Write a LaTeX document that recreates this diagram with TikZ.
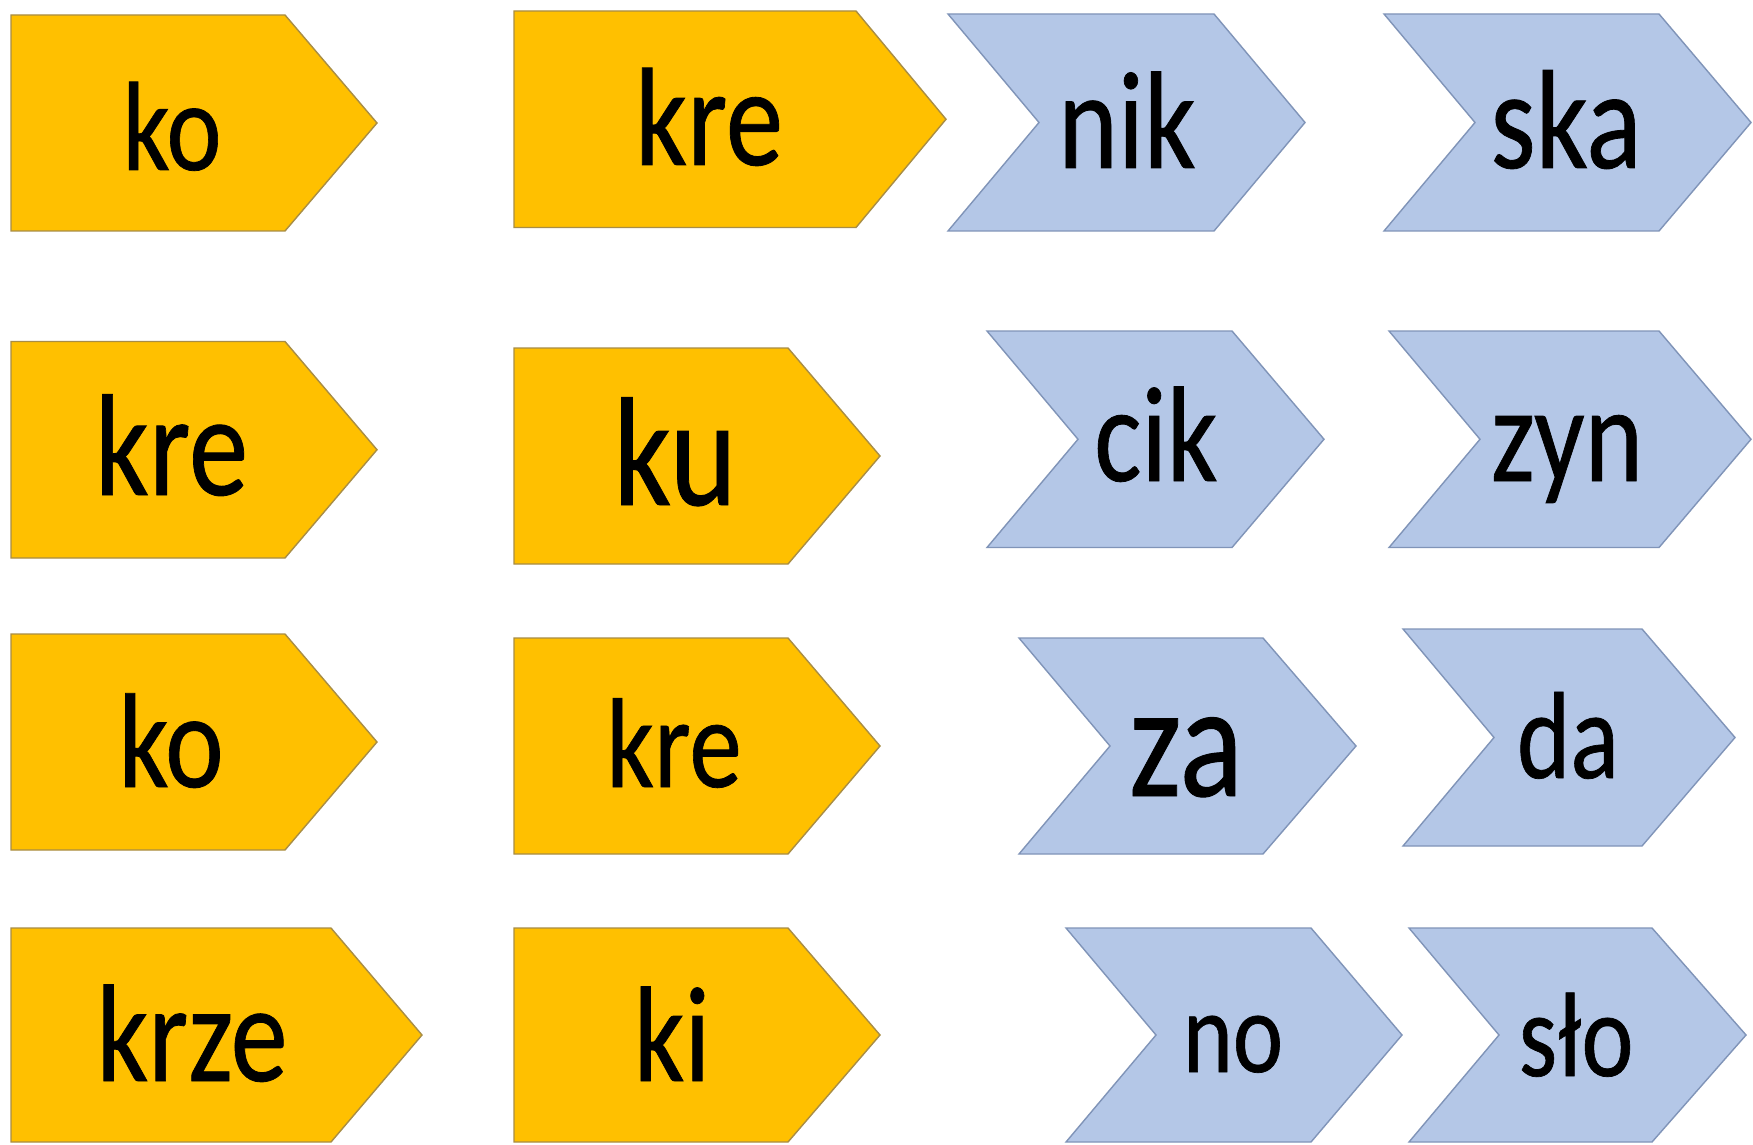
\documentclass[tikz,border=0pt]{standalone}
\usepackage{fontspec}
\setmainfont{Carlito}[FakeBold=0.6]
\definecolor{yelfill}{HTML}{FFC000}
\definecolor{yeldraw}{HTML}{A88D45}
\definecolor{blufill}{HTML}{B4C7E7}
\definecolor{bludraw}{HTML}{8094B8}
\newcommand{\hplate}[6]{% name, left, top, bottom, right, tip
  \filldraw[yelbox] (#2,#3) -- (#5,#3) -- (#6,{(#3+#4)/2}) -- (#5,#4) -- (#2,#4) -- cycle;}
\newcommand{\chevr}[7]{% name, left, top, bottom, notch, right, tip
  \filldraw[blubox] (#2,#3) -- (#6,#3) -- (#7,{(#3+#4)/2}) -- (#6,#4) -- (#2,#4) -- (#5,{(#3+#4)/2}) -- cycle;}
\newcommand{\syl}[5]{% name, cx, baseline, em(px), text
  \node[lbl] (#1) at (#2,#3) {\fontsize{\dimexpr #4pt*569/1000\relax}{\dimexpr #4pt*569/1000\relax}\selectfont\scalebox{0.82}[1]{#5}};}
\begin{document}
\begin{tikzpicture}[x=0.02cm,y=-0.02cm,
  yelbox/.style={fill=yelfill,draw=yeldraw,line width=0.8pt,line join=miter},
  blubox/.style={fill=blufill,draw=bludraw,line width=0.8pt,line join=miter},
  lbl/.style={anchor=base,inner sep=0pt,outer sep=0pt,text=black}]
\useasboundingbox (0,0) rectangle (1753,1145);
\fill[white] (0,0) rectangle (1753,1145);
% row 1
\hplate{p1}{11}{15}{231}{285}{377}
\hplate{p2}{514}{11}{227.5}{856}{946}
\chevr{c1}{948}{14}{231}{1039}{1214}{1305}
\chevr{c2}{1384}{14}{231}{1475}{1659}{1751}
% row 2
\hplate{p3}{11}{341.5}{558}{285}{377}
\hplate{p4}{514}{348}{564}{788}{880}
\chevr{c3}{987}{331}{547.5}{1078}{1232}{1324}
\chevr{c4}{1389}{331}{547.5}{1480}{1659}{1751}
% row 3
\hplate{p5}{11}{634}{850}{285}{377}
\hplate{p6}{514}{638}{854}{788}{880}
\chevr{c5}{1019}{638}{854}{1110}{1263}{1356}
\chevr{c6}{1403}{629}{846}{1494}{1642}{1735}
% row 4
\hplate{p7}{11}{928}{1142}{331}{422}
\hplate{p8}{514}{928}{1142}{788}{880}
\chevr{c7}{1066}{928}{1142}{1156}{1311}{1402}
\chevr{c8}{1409}{928}{1142}{1499}{1652}{1746}
% labels
\syl{t1}{172}{170}{127}{ko}
\syl{t2}{709}{165}{140}{kre}
\syl{t3}{1127}{168}{139}{nik}
\syl{t4}{1566}{168}{141}{ska}
\syl{t5}{171.5}{495}{145}{kre}
\syl{t6}{675}{505}{155}{ku}
\syl{t7}{1156}{481}{136}{cik}
\syl{t8}{1567}{481}{136}{zyn}
\syl{t9}{171}{787}{135}{ko}
\syl{t10}{674}{787}{128}{kre}
\syl{t11}{1186}{796}{162}{za}
\syl{t12}{1568}{778}{124}{da}
\syl{t13}{192}{1081}{139}{krze}
\syl{t14}{672}{1081}{136}{ki}
\syl{t15}{1233}{1072}{116}{no}
\syl{t16}{1576}{1076}{120}{sło}
\end{tikzpicture}
\end{document}
